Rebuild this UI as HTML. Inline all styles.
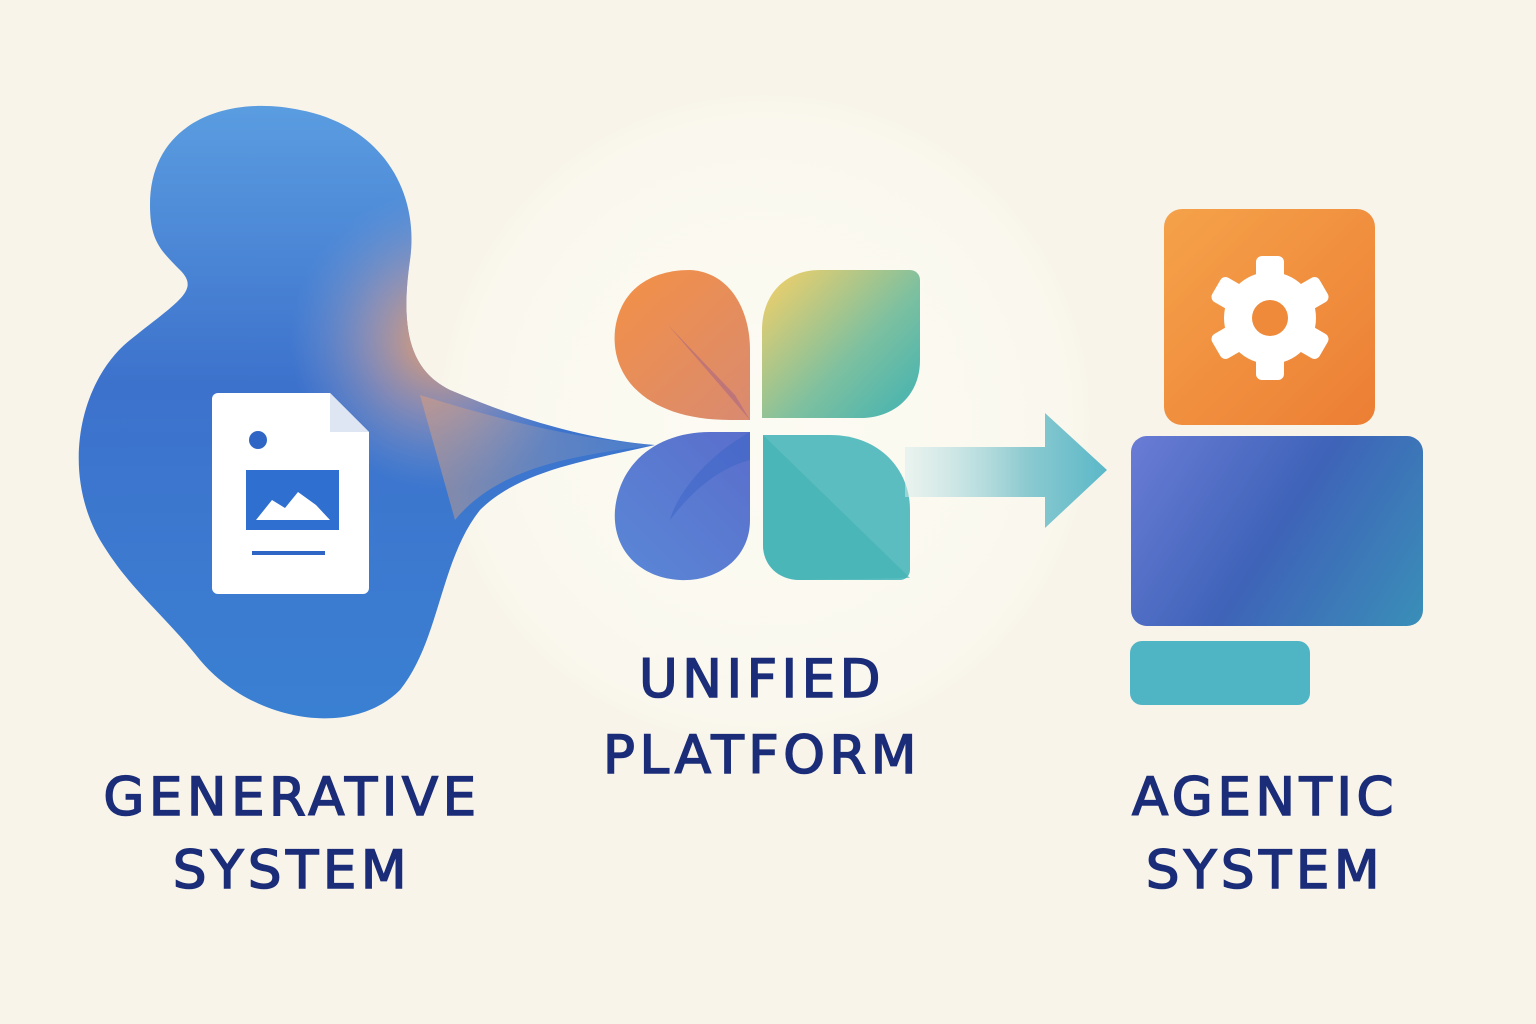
<!DOCTYPE html>
<html><head><meta charset="utf-8"><style>
body{margin:0;background:#f8f4ea;}
svg{display:block}
text{font-family:"DejaVu Sans","Liberation Sans",sans-serif;font-weight:normal;fill:#1b2d78;stroke:#1b2d78;stroke-width:1.6;text-anchor:middle;font-size:53px;letter-spacing:4.5px}
</style></head><body>
<svg width="1536" height="1024" viewBox="0 0 1536 1024">
<defs>
<radialGradient id="bg" cx="765" cy="420" r="330" gradientUnits="userSpaceOnUse"><stop offset="0" stop-color="#fcfbf3"/><stop offset="0.9" stop-color="#faf8ee"/><stop offset="1" stop-color="#f8f4ea"/></radialGradient>
<linearGradient id="blob" x1="250" y1="110" x2="250" y2="720" gradientUnits="userSpaceOnUse"><stop offset="0" stop-color="#5a9ce0"/><stop offset="0.45" stop-color="#3d72cc"/><stop offset="1" stop-color="#3a80d2"/></linearGradient>
<radialGradient id="org" cx="440" cy="340" r="150" gradientUnits="userSpaceOnUse"><stop offset="0" stop-color="#f4a060" stop-opacity="0.95"/><stop offset="0.5" stop-color="#c8a0a0" stop-opacity="0.5"/><stop offset="1" stop-color="#8aa0d0" stop-opacity="0"/></radialGradient>
<linearGradient id="tail" x1="420" y1="0" x2="660" y2="0" gradientUnits="userSpaceOnUse"><stop offset="0" stop-color="#e0a07a"/><stop offset="1" stop-color="#7aa0d0" stop-opacity="0.4"/></linearGradient>
<linearGradient id="p1" x1="620" y1="280" x2="750" y2="420" gradientUnits="userSpaceOnUse"><stop offset="0" stop-color="#f29048"/><stop offset="1" stop-color="#d98a70"/></linearGradient>
<linearGradient id="p2" x1="770" y1="275" x2="910" y2="410" gradientUnits="userSpaceOnUse"><stop offset="0" stop-color="#f0cf6a"/><stop offset="0.6" stop-color="#7cc0a0"/><stop offset="1" stop-color="#48b4b0"/></linearGradient>
<linearGradient id="p3" x1="620" y1="570" x2="750" y2="440" gradientUnits="userSpaceOnUse"><stop offset="0" stop-color="#5a86d6"/><stop offset="1" stop-color="#5a6fcc"/></linearGradient>
<linearGradient id="mon" x1="1131" y1="436" x2="1423" y2="626" gradientUnits="userSpaceOnUse"><stop offset="0" stop-color="#6a7cd6"/><stop offset="0.5" stop-color="#3e63b8"/><stop offset="1" stop-color="#3a8fb8"/></linearGradient>
<linearGradient id="or" x1="1164" y1="209" x2="1375" y2="425" gradientUnits="userSpaceOnUse"><stop offset="0" stop-color="#f5a24a"/><stop offset="1" stop-color="#ec7e34"/></linearGradient>
<linearGradient id="arr" x1="905" y1="0" x2="1107" y2="0" gradientUnits="userSpaceOnUse"><stop offset="0" stop-color="#d8ecec" stop-opacity="0.5"/><stop offset="0.6" stop-color="#8ccad0"/><stop offset="1" stop-color="#5bb8c8"/></linearGradient>
<clipPath id="bc"><path id="bp" d="M150 205 C150 120 230 95 300 110 C380 125 420 190 410 260 C400 330 410 370 450 390 C520 420 590 440 655 445 C590 460 520 470 480 510 C440 560 440 640 400 690 C350 740 250 720 200 660 C160 610 130 590 100 540 C60 470 80 380 130 340 C180 300 200 290 180 270 C160 250 150 240 150 205Z"/></clipPath>
</defs>
<circle cx="765" cy="420" r="325" fill="url(#bg)"/>
<path d="M150 205 C150 120 230 95 300 110 C380 125 420 190 410 260 C400 330 410 370 450 390 C520 420 590 440 655 445 C590 460 520 470 480 510 C440 560 440 640 400 690 C350 740 250 720 200 660 C160 610 130 590 100 540 C60 470 80 380 130 340 C180 300 200 290 180 270 C160 250 150 240 150 205Z" fill="url(#blob)"/>
<g clip-path="url(#bc)"><rect x="0" y="0" width="700" height="800" fill="url(#org)"/>
<path d="M420 395 C500 420 580 440 655 445 C580 455 500 465 455 520 Z" fill="url(#tail)" opacity="0.5"/></g>
<path d="M218 393 H330 L369 432 V588 a6 6 0 0 1 -6 6 H218 a6 6 0 0 1 -6 -6 V399 a6 6 0 0 1 6 -6Z" fill="#fff"/>
<path d="M330 393 V432 H369Z" fill="#dde6f2"/>
<circle cx="258" cy="440" r="9" fill="#2f66c6"/>
<rect x="246" y="470" width="93" height="60" fill="#2f6fd0"/>
<path d="M256 520 L272 500 L285 508 L298 492 L316 505 L330 520Z" fill="#fff"/>
<rect x="252" y="551" width="73" height="4" fill="#2f66c6"/>
<path d="M750 420 L730 420 C650 420 610 380 615 330 C620 290 650 270 690 270 C730 272 750 310 750 350Z" fill="url(#p1)"/>
<path d="M668 325 L750 420 L735 395Z" fill="#a0608a" opacity="0.5"/>
<path d="M762 418 V330 C762 295 785 270 820 270 H910 a10 10 0 0 1 10 10 V360 C920 395 895 418 860 418Z" fill="url(#p2)"/>
<path d="M750 432 V520 C750 560 715 582 680 580 C640 578 612 550 615 510 C620 460 660 432 710 432Z" fill="url(#p3)"/>
<path d="M750 432 C700 460 675 500 670 520 C700 480 730 465 750 460Z" fill="#3a64c8" opacity="0.5"/>
<path d="M763 435 H830 C880 435 910 470 910 510 V570 a10 10 0 0 1 -10 10 H800 C778 580 763 565 763 545Z" fill="#5cbdc0"/>
<path d="M763 435 L910 578 L800 580 C778 580 763 565 763 545Z" fill="#3fb0b0" opacity="0.6"/>
<path d="M905 447 H1045 V413 L1107 470 L1045 528 V497 H905Z" fill="url(#arr)"/>
<rect x="1164" y="209" width="211" height="216" rx="18" fill="url(#or)"/>
<g transform="translate(1270 318)" fill="#fff">
<circle r="46"/>
<g id="t"><rect x="-14" y="-62" width="28" height="24" rx="6"/></g>
<use href="#t" transform="rotate(60)"/><use href="#t" transform="rotate(120)"/><use href="#t" transform="rotate(180)"/><use href="#t" transform="rotate(240)"/><use href="#t" transform="rotate(300)"/>
<circle r="18" fill="#ee8a3a"/>
</g>
<rect x="1131" y="436" width="292" height="190" rx="16" fill="url(#mon)"/>
<rect x="1130" y="641" width="180" height="64" rx="12" fill="#4fb4c4"/>
<text x="292" y="815">GENERATIVE</text>
<text x="292" y="888">SYSTEM</text>
<text x="762" y="697">UNIFIED</text>
<text x="762" y="773">PLATFORM</text>
<text x="1265" y="815">AGENTIC</text>
<text x="1265" y="888">SYSTEM</text>
</svg>
</body></html>
